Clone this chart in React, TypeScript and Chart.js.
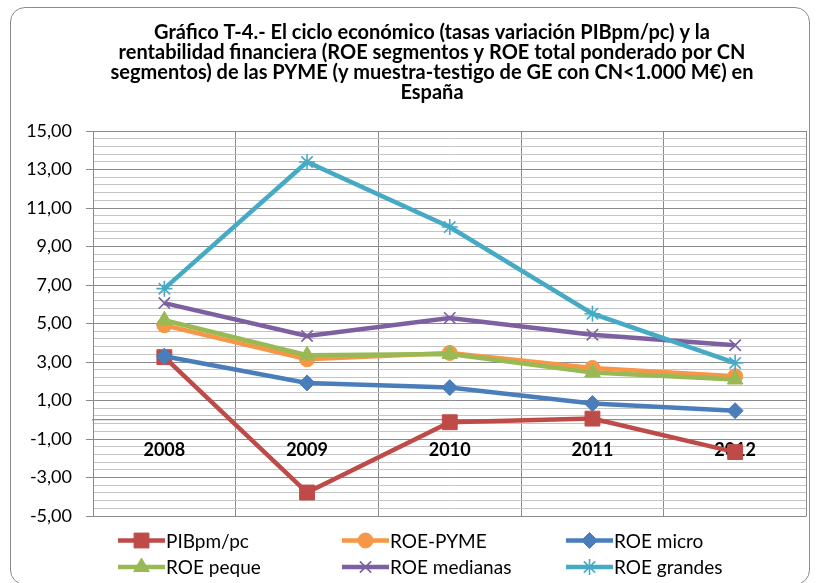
import React, { useEffect, useRef } from 'react';
import { Chart, registerables } from 'chart.js';
import { drawPoint } from 'chart.js/helpers';

Chart.register(...registerables);

const years = ['2008', '2009', '2010', '2011', '2012'];

const pibPc = [3.25, -3.78, -0.13, 0.06, -1.68];
const roePyme = [4.91, 3.14, 3.47, 2.69, 2.26];
const roeMicro = [3.3, 1.91, 1.67, 0.84, 0.47];
const roePeque = [5.17, 3.35, 3.42, 2.45, 2.09];
const roeMedianas = [6.06, 4.35, 5.29, 4.42, 3.87];
const roeGrandes = [6.81, 13.39, 10.01, 5.51, 2.95];

const seriesNames = ['PIBpm/pc', 'ROE-PYME', 'ROE micro', 'ROE peque', 'ROE medianas', 'ROE grandes'];
const seriesValues = [pibPc, roePyme, roeMicro, roePeque, roeMedianas, roeGrandes];
const seriesColors = ['#BE4B48', '#F79646', '#4A7EBB', '#98B954', '#7D60A0', '#46AAC5'];
const pointStyles = ['rect', 'circle', 'rectRot', 'triangle', 'crossRot', 'star'];
const pointRadii = [10.5, 7.5, 8, 9, 8, 8];
const pointBorderWidths = [1, 1, 1, 1, 1.6, 1.6];

const titleLines = [
  'Gráfico T-4.- El ciclo económico (tasas variación PIBpm/pc) y la',
  'rentabilidad financiera (ROE segmentos y ROE total ponderado por CN',
  'segmentos) de las PYME (y muestra-testigo de GE con CN<1.000 M€) en',
  'España',
];

const yMin = -5;
const yMax = 15;
const yMajorStep = 2;
const yMinorStep = 0.4;

const FONT = 'Lato, "Open Sans", sans-serif';

const isMajor = (v: number) => {
  const k = (v - yMin) / yMajorStep;
  return Math.abs(k - Math.round(k)) < 1e-6;
};

const titleShiftPlugin = {
  id: 'titleShift',
  afterLayout(chart: any) {
    const tb = chart.titleBlock;
    if (tb) {
      tb.left = 46;
      tb.right = chart.width;
    }
  },
};

const legendPlugin = {
  id: 'excelLegend',
  afterDraw(chart: any) {
    const ctx = chart.ctx as CanvasRenderingContext2D;
    const area = chart.chartArea;
    chart.data.datasets.forEach((ds: any, i: number) => {
      const col = i % 3;
      const row = Math.floor(i / 3);
      const x0 = area.left + 25 + col * 224;
      const y = area.bottom + 24.5 + row * 26.5;
      ctx.save();
      ctx.strokeStyle = ds.borderColor;
      ctx.lineWidth = 4.5;
      ctx.lineCap = 'butt';
      ctx.beginPath();
      ctx.moveTo(x0, y);
      ctx.lineTo(x0 + 47, y);
      ctx.stroke();
      ctx.fillStyle = ds.pointBackgroundColor;
      ctx.strokeStyle = ds.pointBorderColor;
      ctx.lineWidth = ds.pointBorderWidth;
      drawPoint(
        ctx,
        { pointStyle: ds.pointStyle, rotation: 0, radius: ds.pointRadius, borderWidth: ds.pointBorderWidth } as any,
        x0 + 23.5,
        y
      );
      ctx.fillStyle = '#000';
      ctx.font = `19px ${FONT}`;
      ctx.textBaseline = 'middle';
      ctx.textAlign = 'left';
      ctx.fillText(ds.label, x0 + 48, y + 1);
      ctx.restore();
    });
  },
};

export default function App() {
  const canvasRef = useRef<HTMLCanvasElement | null>(null);

  useEffect(() => {
    if (!canvasRef.current) return;
    Chart.defaults.font.family = FONT;
    const datasets = seriesNames.map((name, i) => ({
      label: name,
      data: seriesValues[i],
      borderColor: seriesColors[i],
      backgroundColor: seriesColors[i],
      pointBackgroundColor: seriesColors[i],
      pointBorderColor: seriesColors[i],
      pointStyle: pointStyles[i],
      pointRadius: pointRadii[i],
      pointBorderWidth: pointBorderWidths[i],
      borderWidth: 4.5,
      tension: 0,
      fill: false,
      xAxisID: 'x',
      yAxisID: 'y',
      order: seriesNames.length - i,
    }));

    const chart = new Chart(canvasRef.current, {
      type: 'line',
      data: { labels: years, datasets },
      plugins: [titleShiftPlugin, legendPlugin],
      options: {
        animation: false,
        responsive: false,
        layout: { padding: { left: 0, right: 10, top: 0, bottom: 67 } },
        plugins: {
          legend: { display: false },
          tooltip: { enabled: false },
          title: {
            display: true,
            text: titleLines,
            color: '#000',
            font: { family: FONT, size: 20, weight: 'bold', lineHeight: 1.0 },
            padding: { top: 23, bottom: 28 },
          },
        },
        scales: {
          x: {
            type: 'category',
            position: { y: 0 } as any,
            offset: true,
            grid: { display: true, offset: true, color: '#8a8a8a', drawTicks: false, lineWidth: 1 },
            border: { display: true, color: '#8a8a8a', width: 1.2 },
            ticks: { display: false },
          },
          x2: {
            type: 'category',
            position: { y: 0 } as any,
            offset: true,
            z: 2,
            grid: { display: false, drawTicks: false },
            border: { display: false },
            ticks: {
              display: true,
              color: '#000',
              padding: 20,
              font: { family: FONT, size: 18, weight: 'bold' },
              maxRotation: 0,
            },
          },
          y: {
            type: 'linear',
            position: 'left',
            min: yMin,
            max: yMax,
            afterFit: (scale: any) => {
              scale.width = 93;
            },
            ticks: {
              stepSize: yMinorStep,
              autoSkip: false,
              color: '#000',
              padding: 14,
              font: { family: FONT, size: 18 },
              callback: (value: any) => {
                const v = Number(value);
                if (!isMajor(v)) return '';
                return Math.round(v).toFixed(2).replace('.', ',');
              },
            },
            grid: {
              drawTicks: true,
              tickLength: 7,
              color: (ctx: any) => (ctx.tick && isMajor(ctx.tick.value) ? '#8a8a8a' : '#c4c4c4'),
              tickColor: (ctx: any) => (ctx.tick && isMajor(ctx.tick.value) ? '#8a8a8a' : 'rgba(0,0,0,0)'),
              lineWidth: 1,
            },
            border: { display: true, color: '#8a8a8a', width: 1 },
          },
        },
      } as any,
    });
    return () => chart.destroy();
  }, []);

  return (
    <div style={{ position: 'absolute', left: 0, top: 0, width: 818, height: 583, background: '#fff', overflow: 'hidden' }}>
      <div
        style={{
          position: 'absolute',
          left: 10,
          top: 7,
          width: 800,
          height: 578,
          border: '1.5px solid #8c8c8c',
          borderRadius: 15,
          boxSizing: 'border-box',
        }}
      />
      <canvas ref={canvasRef} width={818} height={583} style={{ position: 'absolute', left: 0, top: 0 }} />
    </div>
  );
}
